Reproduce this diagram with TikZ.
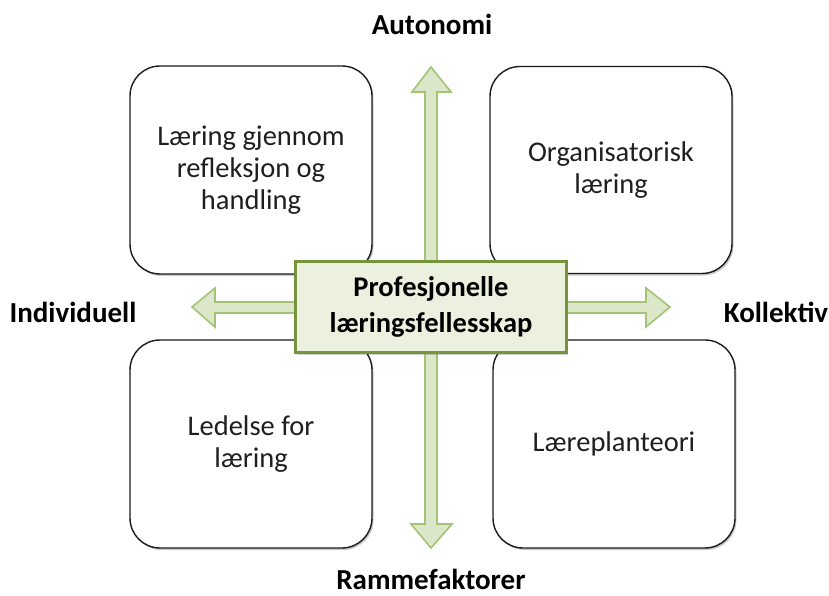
\documentclass[tikz,border=0pt]{standalone}
\usepackage{fontspec}
\setmainfont{Carlito}
\usetikzlibrary{shadows}

\definecolor{boxline}{HTML}{1A1A1A}
\definecolor{hubfill}{HTML}{EBF1DE}
\definecolor{hubline}{HTML}{77933C}
\definecolor{arrowfill}{HTML}{DCE7CA}
\definecolor{arrowline}{HTML}{A3C274}

\tikzset{
  quadbox/.style={draw=boxline, line width=1.4pt, rounded corners=30pt, fill=white,
    drop shadow={shadow xshift=1.5pt, shadow yshift=-2pt, opacity=0.35, fill=black!60},
    align=center, font=\fontsize{28.5}{32}\selectfont, text=black!88},
  hub/.style={draw=hubline, line width=3pt, fill=hubfill,
    drop shadow={shadow xshift=1.5pt, shadow yshift=-2pt, opacity=0.3, fill=black!60},
    align=center, font=\bfseries\fontsize{28.5}{36}\selectfont, text=black},
  axislabel/.style={font=\bfseries\fontsize{29}{32}\selectfont, text=black,
    inner sep=0pt, anchor=base}
}
\tikzset{
  blockarrow/.style={draw=arrowline, line width=1.6pt, fill=arrowfill, line join=miter}
}

\begin{document}
\begin{tikzpicture}[x=1pt, y=-1pt]
  \useasboundingbox (0,0) rectangle (829,596);

  % four quadrant boxes
  \node[quadbox, minimum width=242pt, minimum height=208pt] (tl) at (251,170)
    {Læring gjennom\\refleksjon og\\handling};
  \node[quadbox, minimum width=242pt, minimum height=207pt] (tr) at (611,170)
    {Organisatorisk\\læring};
  \node[quadbox, minimum width=242pt, minimum height=208pt] (bl) at (251,444)
    {Ledelse for\\læring};
  \node[quadbox, minimum width=242pt, minimum height=208pt] (br) at (614,444)
    {Læreplanteori};

  % axis arrows
  \coordinate (c) at (431,307);
  \draw[blockarrow]
    (425,92) -- (412,92) -- (431,67) -- (451,92) -- (437,92)
    -- (437,524) -- (452,524) -- (431,548) -- (411,524) -- (425,524) -- cycle;
  \draw[blockarrow]
    (215,302) -- (215,288) -- (192,307) -- (215,327) -- (215,313)
    -- (646,313) -- (646,327) -- (670,307) -- (646,288) -- (646,302) -- cycle;

  % central node
  \node[hub, minimum width=271pt, minimum height=91pt] (hub) at (c)
    {Profesjonelle\\læringsfellesskap};

  % axis labels
  \node[axislabel] (up) at (432,35) {Autonomi};
  \node[axislabel] (down) at (431,589) {Rammefaktorer};
  \node[axislabel] (left) at (73,322) {Individuell};
  \node[axislabel] (right) at (776,322) {Kollektiv};
\end{tikzpicture}
\end{document}
